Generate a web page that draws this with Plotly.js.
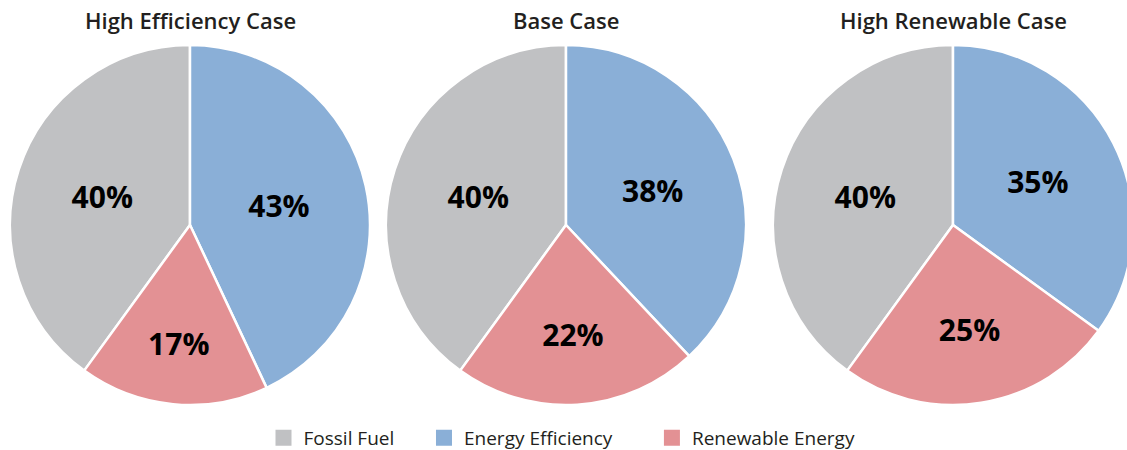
<!DOCTYPE html>
<html>
<head>
<meta charset="utf-8">
<script src="https://cdn.plot.ly/plotly-3.0.1.min.js"></script>
<style>
html, body { margin: 0; padding: 0; overflow: hidden; background: #fff; }
#chart { width: 1140px; height: 460px; }
</style>
</head>
<body>
<div id="chart"></div>
<script>
const categories = ["Fossil Fuel", "Energy Efficiency", "Renewable Energy"];
const caseTitles = ["High Efficiency Case", "Base Case", "High Renewable Case"];
const highEfficiencyValues = [40, 43, 17];
const baseValues = [40, 38, 22];
const highRenewableValues = [40, 35, 25];
const colors = ["#c0c1c3", "#8aafd7", "#e39194"];

const W = 1140;
const H = 460;
const domainsPx = [[10, 370], [386, 746], [773, 1133]];
const seriesValues = [highEfficiencyValues, baseValues, highRenewableValues];
const legendPad = ["\u00a0\u00a0\u00a0\u00a0\u00a0", "\u00a0\u00a0\u00a0\u00a0\u00a0\u00a0\u00a0", ""];

const pieTraces = seriesValues.map((vals, i) => ({
  type: "pie",
  labels: categories,
  values: vals,
  sort: false,
  direction: "clockwise",
  rotation: -vals[0] * 3.6,
  marker: { colors: colors, line: { color: "#ffffff", width: 2.5 } },
  texttemplate: "%{value}%",
  textposition: "inside",
  insidetextorientation: "horizontal",
  textfont: { family: "Open Sans", size: 30, weight: 700, color: "#000000" },
  hoverinfo: "label+value",
  showlegend: false,
  domain: { x: [domainsPx[i][0] / W, domainsPx[i][1] / W], y: [(H - 405) / H, (H - 45) / H] }
}));

const legendTraces = categories.map((c, i) => ({
  type: "scatter",
  mode: "markers",
  x: [null], y: [null],
  name: c + legendPad[i],
  marker: { symbol: "square", size: 18, color: colors[i] },
  showlegend: true,
  hoverinfo: "skip"
}));

const annotations = caseTitles.map((t, i) => ({
  text: t,
  xref: "paper", yref: "paper",
  x: (domainsPx[i][0] + domainsPx[i][1]) / 2 / W,
  y: 1 - 20 / H,
  xanchor: "center", yanchor: "middle",
  showarrow: false,
  font: { family: "Open Sans", size: 22, weight: 600, color: "#231f20" }
}));

const layout = {
  width: W,
  height: H,
  margin: { l: 0, r: 0, t: 0, b: 0 },
  paper_bgcolor: "#ffffff",
  plot_bgcolor: "rgba(0,0,0,0)",
  xaxis: { visible: false },
  yaxis: { visible: false },
  showlegend: true,
  annotations: annotations,
  legend: {
    orientation: "h",
    x: 562 / W, xanchor: "center",
    y: (H - 438) / H, yanchor: "middle",
    font: { family: "Open Sans", size: 19, color: "#231f20" },
    itemclick: false
  }
};

Plotly.newPlot("chart", pieTraces.concat(legendTraces), layout, { displayModeBar: false, staticPlot: true });
</script>
</body>
</html>
